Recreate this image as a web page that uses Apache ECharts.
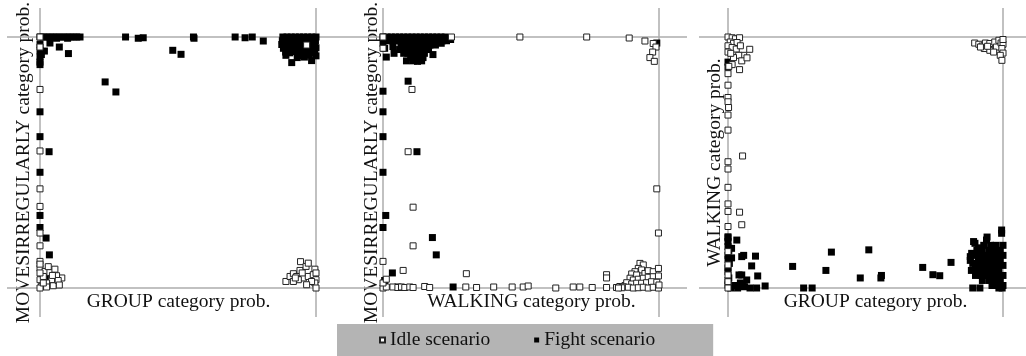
<!DOCTYPE html>
<html>
<head>
<meta charset="utf-8">
<script src="https://cdn.jsdelivr.net/npm/echarts@6/dist/echarts.min.js"></script>
<style>
html, body { margin: 0; padding: 0; background: #fff; }
#chart { width: 1026px; height: 356px; }
</style>
</head>
<body>
<div id="chart"></div>
<script>
// category names
var seriesNames = ['Idle scenario', 'Fight scenario'];
var xTitles = ['GROUP category prob.', 'WALKING category prob.', 'GROUP category prob.'];
var yTitles = ['MOVESIRREGULARLY category prob.', 'MOVESIRREGULARLY category prob.', 'WALKING category prob.'];
var refLines = [0, 1];

// panel 1 : GROUP (x) vs MOVESIRREGULARLY (y)
var p1Fight = [
    [0,1],[0.012,1],[0.024,1],[0.036,1],[0.048,1],[0.06,1],[0.072,1],[0.085,1],[0.097,1],[0.109,1],[0.121,1],[0.133,1],[0.145,1],[0.06,0.995],[0.1,0.995],
    [0.036,0.976],[0.016,0.944],[0.07,0.96],[0.103,0.934],[0,0.97],[0,0.945],[0,0.92],[0,0.9],[0,0.89],[0.005,0.93],
    [0.31,1],[0.356,0.995],[0.374,0.997],[0.556,1],[0.558,0.995],[0.707,1],[0.743,0.997],[0.769,1],[0.809,0.984],
    [0.236,0.821],[0.275,0.781],[0.481,0.947],[0.511,0.931],
    [0,0.702],[0,0.603],[0.033,0.543],[0,0.461],[0,0.289],[0,0.241],[0.022,0.199],[0.034,0.132],
    [0.02,0.055],[0.035,0.03],
    [0.88,1],[0.895,1],[0.91,1],[0.925,1],[0.94,1],[0.955,1],[0.97,1],[0.985,1],[1,1],
    [0.878,0.985],[0.893,0.988],[0.908,0.984],[0.923,0.987],[0.938,0.983],[0.953,0.986],[0.968,0.984],[0.983,0.988],[0.998,0.985],
    [0.876,0.97],[0.89,0.968],[0.905,0.972],[0.92,0.969],[0.935,0.971],[0.95,0.966],[0.965,0.97],[0.98,0.968],[0.995,0.972],
    [0.882,0.955],[0.897,0.952],[0.912,0.956],[0.927,0.95],[0.942,0.954],[0.957,0.951],[0.972,0.955],[0.987,0.95],[1,0.957],
    [0.89,0.94],[0.905,0.937],[0.92,0.942],[0.935,0.936],[0.95,0.94],[0.965,0.938],[0.98,0.941],[0.995,0.936],
    [0.891,0.927],[0.912,0.898],[0.932,0.918],[0.984,0.906],[0.966,0.934],[0.945,0.925],[0.958,0.92],[0.975,0.928],[1,0.925]
];
var p1Idle = [
    [0,1],[0,0.96],[0,0.791],[0,0.546],[0,0.395],[0,0.325],[0,0.219],[0,0.168],[0,0.106],
    [0,0.079],[0.018,0.066],[0.036,0.062],[0.054,0.075],[0.079,0.04],[0.06,0.049],[0.042,0.033],[0.024,0.02],[0.006,0.007],
    [0.024,0.004],[0.048,0.009],[0,0.033],[0.012,0.046],[0,0],[0,0.06],[0.066,0.03],[0.03,0.085],[0.012,0.02],[0.045,0.05],[0.07,0.012],[0,0.095],
    [0.891,0.026],[0.906,0.046],[0.918,0.057],[0.93,0.046],[0.942,0.07],[0.944,0.105],[0.964,0.086],[0.972,0.099],[0.954,0.04],
    [0.972,0.046],[0.996,0.075],[0.99,0.053],[1,0.033],[0.996,0.02],[1,0],[0.984,0.026],[0.936,0.033],[0.918,0.026],[0.966,0.013],
    [0.95,0.06],[1,0.06],[0.925,0.04],
    [0.966,0.968]
];

// panel 2 : WALKING (x) vs MOVESIRREGULARLY (y)
var p2Fight = [
    [0,1],[0.015,1],[0.03,1],[0.045,1],[0.06,1],[0.075,1],[0.09,1],[0.105,1],[0.12,1],[0.135,1],[0.15,1],[0.165,1],[0.18,1],[0.195,1],[0.21,1],[0.225,1],
    [0.02,0.985],[0.035,0.985],[0.05,0.985],[0.065,0.985],[0.08,0.985],[0.095,0.985],[0.11,0.985],[0.125,0.985],[0.14,0.985],[0.155,0.985],[0.17,0.985],[0.185,0.985],[0.2,0.985],[0.215,0.985],
    [0.036,0.962],[0.065,0.968],[0.08,0.968],[0.095,0.968],[0.11,0.968],[0.125,0.968],[0.14,0.968],[0.155,0.968],[0.17,0.968],[0.19,0.968],
    [0.06,0.95],[0.075,0.95],[0.09,0.95],[0.105,0.95],[0.12,0.95],[0.135,0.95],[0.15,0.95],[0.165,0.95],
    [0.075,0.935],[0.09,0.935],[0.105,0.935],[0.12,0.935],[0.135,0.935],[0.15,0.935],[0.181,0.93],
    [0.1,0.918],[0.115,0.918],[0.13,0.918],[0.145,0.918],
    [0.085,0.905],[0.11,0.905],[0.125,0.903],[0.14,0.905],
    [0,0.975],[0.006,0.955],[0.012,0.92],[0.04,0.935],[0.211,0.975],[0.23,0.985],[0.245,0.99],
    [0.992,0.976],[0.091,0.824],[0,0.784],[0,0.702],[0,0.603],[0.123,0.543],[0,0.461],[0.01,0.289],[0,0.241],
    [0.179,0.201],[0.193,0.132],[0.034,0.06],[0.254,0.004],
    [0.006,0.03],[0.054,0.004],[0.065,0.002],
    [0.93,0.03],[0.955,0.05],[0.97,0.02],[0.985,0.04],[0.945,0.01],[0.965,0.035]
];
var p2Idle = [
    [0,1],[0,0.955],[0.248,1],[0.496,1],[0.738,1],[0.892,0.996],[0.949,0.984],[0.979,0.974],[0.989,0.96],[0.977,0.94],[0.967,0.918],[0.983,0.903],
    [0.105,0.791],[0.091,0.543],[0.109,0.322],[0.109,0.168],[0.992,0.395],[0.998,0.219],[0,0.106],[0.073,0.07],[0.302,0.057],[0.81,0.053],[0.81,0.04],
    [0,0],[0.012,0.004],[0.036,0.004],[0.054,0.002],[0.067,0.004],[0.079,0.002],[0.097,0.004],[0.109,0.002],[0.151,0.006],[0.169,0.002],
    [0.3,0.004],[0.339,0.002],[0.401,0.004],[0.468,0.004],[0.508,0.004],[0.526,0.008],[0.626,0],[0.689,0.004],[0.713,0.004],[0.758,0.002],
    [0.81,0.002],[0.846,0.002],[0.858,0.006],[0.877,0.01],[0,0.02],[0.012,0.035],
    [0.931,0.098],[0.943,0.092],[0.925,0.078],[0.937,0.072],[0.913,0.065],[0.901,0.056],[0.919,0.052],[0.949,0.058],[0.961,0.069],
    [0.979,0.065],[0.998,0.078],[0.895,0.039],[0.907,0.032],[0.925,0.035],[0.943,0.039],[0.961,0.043],[0.979,0.045],[0.998,0.048],
    [0.883,0.021],[0.901,0.016],[0.919,0.019],[0.937,0.019],[0.955,0.021],[0.973,0.025],[0.992,0.023],[0.871,0.005],[0.889,0.003],
    [0.907,0],[0.925,0.001],[0.943,0.003],[0.961,0],[0.979,0.003],[0.998,0],[1,0.012],[0.865,0.001],[0.853,0]
];

// panel 3 : GROUP (x) vs WALKING (y)
var p3Fight = [
    [0,0.204],[0,0.185],[0,0.165],[0.003,0.15],[0,0.13],[0,0.115],[0.005,0.098],[0,0.08],[0,0.065],[0.003,0.04],[0,0.03],[0,0.012],[0,0.2],[0,0.9],[0,0.88],
    [0.032,0.191],[0.013,0.158],[0.05,0.125],[0.057,0.13],[0.1,0.127],[0.013,0.12],[0.086,0.088],[0.04,0.052],[0.05,0.052],[0.068,0.032],
    [0.108,0.048],[0.045,0.02],[0.055,0.015],[0.01,0],[0.035,0],[0.08,0],[0.104,0],[0.135,0.008],[0.025,0.01],[0.06,0.005],
    [0.235,0.086],[0.275,0],[0.306,0],[0.356,0.07],[0.376,0.143],[0.481,0.04],[0.512,0.152],[0.556,0.04],[0.558,0.05],
    [0.708,0.082],[0.745,0.053],[0.77,0.049],[0.811,0.102],
    [0.995,0.231],[0.995,0.218],[0.898,0.178],[0.94,0.191],[0.91,0.16],[0.886,0.138],[0.89,0.098],[0.893,0.185],[0.942,0.203],[0.881,0.11],[0.881,0.125],
    [0.93,0.17],[0.955,0.17],[0.975,0.17],[1,0.17],
    [0.905,0.15],[0.925,0.15],[0.95,0.15],[0.97,0.15],[0.99,0.15],
    [0.9,0.13],[0.92,0.13],[0.94,0.13],[0.96,0.13],[0.98,0.13],[1,0.13],
    [0.91,0.11],[0.93,0.11],[0.95,0.11],[0.97,0.11],[0.99,0.11],
    [0.9,0.09],[0.92,0.09],[0.94,0.09],[0.96,0.09],[0.98,0.09],[1,0.09],
    [0.885,0.07],[0.905,0.07],[0.925,0.07],[0.945,0.07],[0.965,0.07],[0.985,0.07],
    [0.9,0.05],[0.92,0.05],[0.94,0.05],[0.96,0.05],[0.98,0.05],[1,0.05],
    [0.925,0.03],[0.95,0.03],[0.97,0.03],[0.99,0.03],
    [0.96,0.01],[0.98,0.01],[1,0.01],
    [0.89,0],[0.916,0],[0.997,0],[0.985,0]
];
var p3Idle = [
    [0,1],[0.015,0.997],[0.027,0.993],[0.042,0.997],[0.008,0.98],[0.02,0.975],[0.033,0.978],[0,0.965],[0.015,0.958],[0.03,0.952],
    [0.045,0.965],[0.079,0.951],[0.057,0.927],[0.039,0.927],[0.02,0.918],[0.05,0.905],[0.069,0.917],[0.042,0.87],[0.015,0.89],[0.003,0.883],
    [0,0.854],[0,0.808],[0,0.759],[0,0.742],[0.002,0.719],[0,0.689],[0,0.629],[0.053,0.526],[0,0.503],[0,0.474],[0,0.401],[0,0.335],
    [0,0.305],[0.042,0.302],[0,0.245],[0.05,0.252],[0,0.145],[0,0.092],[0,0.052],[0,0.025],[0,0],[0,0.94],[0.01,0.935],
    [0.897,0.976],[0.912,0.971],[0.924,0.964],[0.936,0.976],[0.932,0.954],[0.952,0.947],[0.952,0.974],[0.97,0.98],[0.976,0.96],
    [0.985,0.987],[0.993,0.976],[1,0.971],[0.996,0.954],[1,0.936],[0.99,0.927],[0.996,0.907],[0.966,0.94],[0.944,0.963],[0.918,0.96],[1,0.99]
];

var panels = [
    {fight: p1Fight, idle: p1Idle},
    {fight: p2Fight, idle: p2Idle},
    {fight: p3Fight, idle: p3Idle}
];

// plot layout: where 0 and 1 fall in pixels, and how far the frame lines reach
var layout = [
    {left: 7, right: 344, x0: 40, x1: 316, nameShift: 3, yGap: -27},
    {left: 344, right: 687, x0: 383, x1: 659, nameShift: 16, yGap: -38},
    {left: 699, right: 1026, x0: 728, x1: 1003, nameShift: 13, yGap: -26}
];
var plotTop = 8, plotBottom = 317, yPx0 = 288, yPx1 = 37;
var font = 'Liberation Serif';
var fontSize = 19.5;

var grids = [], xAxes = [], yAxes = [], series = [];
layout.forEach(function (l, i) {
    var ux = l.x1 - l.x0, uy = yPx0 - yPx1;
    grids.push({left: l.left, top: plotTop, width: l.right - l.left, height: plotBottom - plotTop,
        containLabel: false, outerBoundsMode: 'none'});
    xAxes.push({
        gridIndex: i, type: 'value',
        min: (l.left - l.x0) / ux, max: (l.right - l.x0) / ux,
        axisLine: {show: false}, axisTick: {show: false}, axisLabel: {show: false}, splitLine: {show: false},
        name: xTitles[i], nameLocation: 'middle', nameGap: -25,
        nameTextStyle: {fontFamily: font, fontSize: fontSize, color: '#111', padding: [0, 0, 0, l.nameShift * 2]}
    });
    yAxes.push({
        gridIndex: i, type: 'value',
        min: (yPx0 - plotBottom) / uy, max: (yPx0 - plotTop) / uy,
        axisLine: {show: false}, axisTick: {show: false}, axisLabel: {show: false}, splitLine: {show: false},
        name: yTitles[i], nameLocation: 'middle', nameGap: l.yGap,
        nameTextStyle: {fontFamily: font, fontSize: fontSize, color: '#111'}
    });
    series.push({
        type: 'scatter', name: 'frame', xAxisIndex: i, yAxisIndex: i, data: [], silent: true, z: 1,
        markLine: {
            silent: true, symbol: 'none', z: 1, animation: false,
            label: {show: false},
            lineStyle: {color: '#adadad', width: 1.5, type: 'solid'},
            emphasis: {disabled: true},
            data: refLines.map(function (v) { return {xAxis: v}; })
                .concat(refLines.map(function (v) { return {yAxis: v}; }))
        }
    });
    series.push({
        type: 'scatter', name: seriesNames[1], xAxisIndex: i, yAxisIndex: i,
        symbol: 'rect', symbolSize: 7, z: 2,
        itemStyle: {color: '#000', opacity: 1},
        data: panels[i].fight
    });
    series.push({
        type: 'scatter', name: seriesNames[0], xAxisIndex: i, yAxisIndex: i,
        symbol: 'rect', symbolSize: 6, z: 3,
        itemStyle: {color: '#fff', borderColor: '#222', borderWidth: 1, opacity: 1},
        data: panels[i].idle
    });
});

var myChart = echarts.init(document.getElementById('chart'));
myChart.setOption({
    animation: false,
    backgroundColor: '#fff',
    grid: grids,
    xAxis: xAxes,
    yAxis: yAxes,
    legend: {
        data: seriesNames,
        left: 337, top: 324,
        padding: [6, 58, 8, 42],
        itemGap: 44, itemWidth: 5, itemHeight: 5,
        backgroundColor: '#b4b4b4',
        selectedMode: false,
        textStyle: {fontFamily: font, fontSize: fontSize, color: '#111'}
    },
    series: series
});
</script>
</body>
</html>
